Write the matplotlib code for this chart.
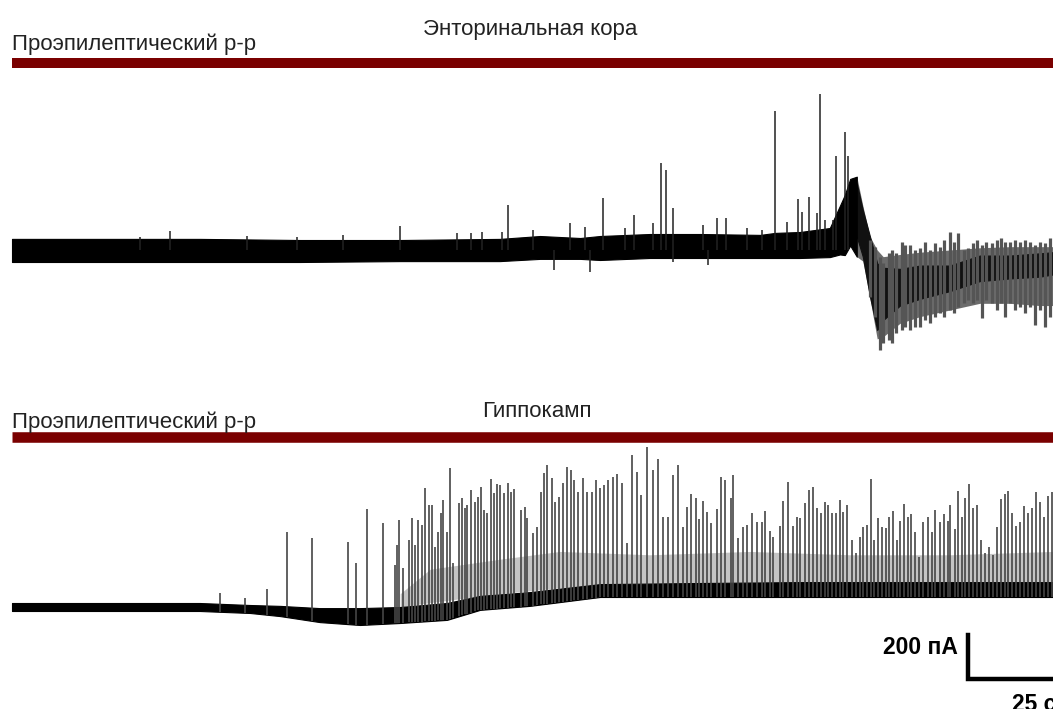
import numpy as np
import matplotlib
matplotlib.use("Agg")
import matplotlib.pyplot as plt

plt.rcParams['font.family'] = ['Liberation Sans', 'DejaVu Sans']

# ---- верхняя запись: энторинальная кора (время, с; ток, пА)
ec_noise_t = [2.0, 16.7, 33.3, 50.0, 66.7, 83.3, 90.0, 96.7, 100.0, 108.3, 116.7,
              126.7, 129.2, 133.3, 138.3, 140.0, 140.8, 141.7, 142.8]
ec_noise_hi = [50, 50, 50, 45, 45, 50, 63, 54, 63, 72, 72, 68, 77, 81, 99, 200, 248, 320, 330]
ec_noise_lo = [-54, -54, -54, -54, -50, -50, -40, -40, -45, -36, -36, -36, -36, -36,
               -32, -20, -23, 20, -30]

# разряд после ~143 с
ec_osc_t = [142.8, 143.8, 145.0, 146.2, 147.2, 150.0, 153.3, 158.3, 163.3, 168.3, 173.3, 175.5]
ec_osc_hi = [330, 200, 60, 0, -30, -20, -10, 0, 10, 15, 15, 15]
ec_osc_lo = [-30, -50, -220, -400, -390, -330, -300, -270, -240, -240, -250, -250]
ec_core_hi = [300, 180, 60, -60, -80, -85, -70, -70, -25, -25, -15, -10]
ec_core_lo = [60, -30, -210, -360, -315, -250, -220, -185, -140, -128, -120, -110]

ec_osc_stroke_t = [145.0, 145.8, 146.7, 147.2, 148.1, 148.6, 149.4, 150.3, 150.8, 151.7,
                   152.5, 153.3, 154.2, 155.0, 155.8, 156.7, 157.4, 158.3, 159.0, 159.7,
                   160.6, 161.4, 162.2, 162.9, 163.6, 164.4, 165.3, 166.1, 166.9, 167.5,
                   168.3, 169.2, 170.0, 170.8, 171.7, 172.5, 173.3, 174.2, 175.0]
ec_osc_stroke_hi = [45, 15, -30, -60, -15, 0, -15, 38, 23, 23,
                    0, 8, 38, 0, 30, 15, 45, 83, 38, 78,
                    0, 8, 30, 45, 23, 38, 30, 45, 53, 38,
                    38, 45, 38, 45, 38, 23, 38, 30, 53]
ec_osc_stroke_lo = [-210, -300, -450, -420, -405, -420, -375, -360, -345, -360,
                    -345, -345, -315, -330, -300, -285, -300, -270, -285, -255,
                    -240, -225, -240, -225, -308, -225, -240, -270, -240, -300,
                    -240, -270, -255, -285, -255, -338, -270, -345, -300]

ec_spike_t = [23.3, 28.3, 41.2, 49.5, 57.2, 66.7, 76.2, 78.5, 80.3, 83.7,
              84.7, 88.8, 95.0, 97.5, 100.5, 104.2, 105.7, 108.8, 110.2, 111.0,
              112.2, 117.2, 119.5, 121.0, 124.5, 127.0, 129.2, 131.2, 133.0, 133.7,
              134.8, 136.2, 136.7, 137.5, 138.8, 139.3, 140.8, 141.3]
ec_spike_amp = [58, 85, 63, 58, 68, 108, 77, 77, 81, 81,
                203, 90, 122, 104, 234, 99, 158, 122, 392, 360,
                189, 113, 144, 144, 99, 90, 626, 126, 230, 171,
                239, 167, 702, 135, 135, 423, 531, 423]
ec_dip_t = [92.3, 98.3, 112.2, 118.0]
ec_dip_amp = [-90, -99, -54, -67]

# ---- нижняя запись: гиппокамп
hc_noise_t = [2.0, 16.7, 33.3, 41.7, 46.7, 53.3, 60.0, 66.7, 74.5, 80.0, 88.3, 100.0,
              116.7, 133.3, 150.0, 166.7, 175.5]
hc_noise_hi = [18, 18, 18, 9, 5, -5, -5, 0, 18, 50, 67, 103, 108, 112, 112, 112, 112]
hc_noise_lo = [-18, -18, -18, -27, -41, -68, -81, -72, -58, -13, 5, 45, 45, 45, 45, 45, 45]

# плотная часть мелких разрядов
hc_dense_t = [66.7, 71.7, 83.3, 93.3, 108.3, 125.0, 141.7, 158.3, 175.5]
hc_dense_hi = [60, 170, 215, 250, 235, 250, 235, 235, 250]
hc_dense_lo = [0, 20, 60, 86, 105, 108, 112, 112, 112]

hc_spike_t = [36.7, 40.8, 44.5, 47.8, 52.0, 58.0, 59.3, 61.2, 63.8, 65.8,
              66.2, 66.5, 67.2, 68.2, 68.7, 69.2, 69.7, 70.3, 70.8, 71.5,
              72.0, 72.5, 73.0, 73.5, 73.8, 74.5, 75.0, 75.5, 76.5, 77.0,
              77.5, 77.8, 78.5, 79.2, 79.7, 80.2, 80.7, 81.2, 81.8, 82.3,
              82.8, 83.3, 84.0, 84.7, 85.2, 85.7, 86.8, 87.5, 87.8, 88.8,
              89.5, 90.2, 90.7, 91.2, 92.0, 92.5, 93.2, 93.8, 94.5, 95.2,
              95.7, 96.3, 97.2, 97.8, 98.7, 99.3, 100.0, 100.7, 101.3, 102.2,
              102.8, 103.7, 104.5, 105.3, 106.2, 106.8, 107.8, 108.8, 109.7, 110.5,
              111.3, 112.2, 113.0, 113.8, 114.5, 115.2, 116.0, 116.5, 117.2, 117.8,
              118.5, 119.5, 120.2, 120.8, 121.8, 122.2, 123.0, 123.8, 124.5, 125.3,
              126.2, 127.0, 127.5, 128.3, 128.8, 130.0, 130.5, 131.3, 132.2, 132.8,
              133.3, 134.2, 134.8, 135.5, 136.2, 136.8, 137.5, 138.0, 138.7, 139.3,
              140.0, 140.5, 141.2, 142.0, 142.7, 143.3, 143.8, 144.5, 145.2, 145.7,
              146.3, 147.0, 147.7, 148.2, 148.8, 149.5, 150.0, 150.7, 151.3, 151.8,
              152.5, 153.2, 153.8, 154.7, 155.3, 155.8, 156.7, 157.3, 158.0, 158.3,
              159.2, 159.7, 160.3, 160.8, 161.5, 162.2, 162.8, 163.5, 164.2, 164.8,
              165.5, 166.2, 166.8, 167.5, 168.0, 168.7, 169.3, 170.0, 170.7, 171.3,
              172.0, 172.7, 173.3, 174.0, 174.7, 175.3]
hc_spike_amp = [63, 40, 81, 338, 311, 293, 198, 441, 378, 189,
                279, 392, 176, 302, 401, 279, 392, 369, 536, 459,
                459, 270, 338, 423, 482, 338, 626, 198, 468, 491,
                446, 459, 527, 473, 495, 540, 437, 423, 576, 513,
                554, 549, 513, 558, 518, 531, 437, 450, 401, 333,
                360, 518, 603, 639, 581, 473, 495, 558, 630, 617,
                572, 518, 581, 518, 518, 572, 536, 549, 572, 585,
                599, 558, 288, 684, 608, 504, 720, 617, 666, 405,
                405, 594, 639, 360, 450, 509, 491, 396, 477, 428,
                378, 441, 585, 572, 491, 594, 311, 360, 369, 423,
                383, 383, 432, 342, 315, 365, 477, 563, 365, 405,
                401, 468, 527, 540, 446, 423, 473, 459, 423, 423,
                482, 428, 459, 302, 243, 315, 360, 369, 576, 302,
                401, 360, 356, 405, 432, 302, 387, 464, 405, 419,
                338, 225, 383, 405, 338, 437, 383, 419, 387, 459,
                351, 522, 405, 491, 554, 446, 459, 302, 243, 270,
                234, 360, 486, 509, 522, 423, 365, 383, 455, 423,
                446, 518, 473, 405, 500, 518]

drug_label = "Проэпилептический р-р"
bar_red = "#7a0000"

fig = plt.figure(figsize=(10.53, 7.09), dpi=100)
ax1 = fig.add_axes([0, 1 - 380 / 709, 1, 380 / 709])
ax2 = fig.add_axes([0, 0, 1, 329 / 709])

for ax in (ax1, ax2):
    ax.set_xlim(0, 175.5)
    ax.axis("off")
ax1.set_ylim(-585, 1125)
ax2.set_ylim(-459, 1021.5)

# верхняя запись
ax1.fill_between(ec_osc_t, ec_osc_lo, ec_osc_hi, color="#6c6c6c", lw=0)
ax1.vlines(ec_osc_stroke_t, ec_osc_stroke_lo, ec_osc_stroke_hi, color="#555555", lw=2.3)
ax1.fill_between(ec_osc_t, ec_core_lo, ec_core_hi, color="#111111", lw=0.8)
ax1.fill_between(ec_noise_t, ec_noise_lo, ec_noise_hi, color="black", lw=0.8)
ax1.vlines(ec_spike_t, 0, ec_spike_amp, color="#222222", lw=1.1)
ax1.vlines(ec_dip_t, 0, ec_dip_amp, color="#222222", lw=1.1)
ax1.hlines(841, 2.0, 175.5, color=bar_red, lw=7.2, clip_on=False)

# нижняя запись
ax2.fill_between(hc_dense_t, hc_dense_lo, hc_dense_hi, color="#c4c4c4", lw=0)
foot = np.interp(hc_spike_t, hc_noise_t, hc_noise_lo)
ax2.vlines(hc_spike_t, foot, hc_spike_amp, color="#454545", lw=1.2)
ax2.fill_between(hc_noise_t, hc_noise_lo, hc_noise_hi, color="black", lw=0.8)
ax2.hlines(763, 2.0, 175.5, color=bar_red, lw=7.6, clip_on=False)

# масштаб
ax2.plot([161.3, 161.3, 186.3], [-125, -325, -325], color="black", lw=3.2,
         solid_joinstyle="miter", clip_on=False)
ax2.text(159.7, -180, "200 пА", ha="right", va="center", fontsize=16.5,
         fontweight="bold")
ax2.text(168.7, -440, "25 с", ha="left", va="center", fontsize=16.5,
         fontweight="bold")

# подписи
fig.text(12 / 1053, 1 - 50 / 709, drug_label, fontsize=16, color="#222222")
fig.text(530 / 1053, 1 - 35 / 709, "Энторинальная кора", ha="center",
         fontsize=16, color="#222222")
fig.text(12 / 1053, 1 - 428 / 709, drug_label, fontsize=16, color="#222222")
fig.text(537 / 1053, 1 - 417 / 709, "Гиппокамп", ha="center", fontsize=16,
         color="#222222")

fig.savefig("out.png", dpi=100)
